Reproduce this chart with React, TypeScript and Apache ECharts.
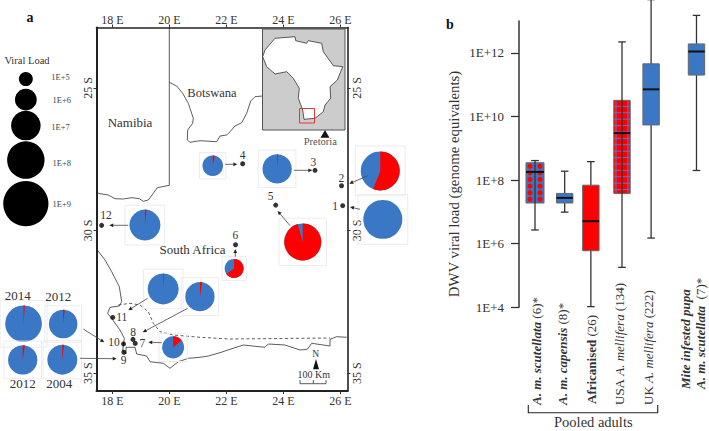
import React, { useEffect, useRef } from "react";
import * as echarts from "echarts";

const FONT = "'Liberation Serif', serif";
const BLUE = "#3a78c6";
const RED = "#ff0000";
const INK = "#333333";

// ---- panel a: map data (longitude E, latitude as negative S)
const lonTicks = [18, 20, 22, 24, 26];
const latTicks = [-25, -30, -35];
const siteIds = ["1", "2", "3", "4", "5", "6", "7", "8", "9", "10", "11", "12"];
const siteLon = [26.08, 26.04, 25.11, 22.57, 23.73, 22.32, 18.8, 18.72, 18.4, 18.39, 18.01, 17.62];
const siteLat = [-29.13, -28.43, -27.89, -27.66, -29.11, -30.5, -33.96, -33.82, -34.27, -33.98, -33.05, -29.82];

const pieLon = [21.52, 19.14, 23.78, 27.4, 27.49, 24.68, 22.27, 19.78, 21.07, 20.13, 14.88, 16.27, 14.85, 16.24];
const pieLat = [-27.73, -29.81, -27.84, -27.91, -29.61, -30.4, -31.33, -32.05, -32.32, -34.1, -33.27, -33.28, -34.54, -34.53];
const pieLoad = [5.85, 7.18, 6.97, 8.2, 8.2, 7.95, 5.64, 7.18, 6.97, 6.03, 7.9, 6.87, 6.97, 7.05];
const pieRedPct = [3.3, 1.7, 1.1, 56, 0, 95.5, 65, 0.8, 2.5, 14, 1.1, 1.7, 2.5, 1.9];

const legendLoad = [5, 6, 7, 8, 9];
const legendLon = [14.96, 14.96, 14.96, 14.96, 14.96];
const legendLat = [-24.69, -25.41, -26.32, -27.53, -29.06];
const legendLabels = ["1E+5", "1E+6", "1E+7", "1E+8", "1E+9"];

// ---- panel b: DWV viral load box plots
const boxNames = ["A. m. scutellata", "A. m. capensis", "Africanised", "USA A. mellifera", "UK A. mellifera", "Mite pupa"];
const boxPos = [1, 2.02, 2.92, 3.99, 4.99, 6.55];
const boxLow = [2.7e6, 9.8e6, 1.05e4, 1.8e5, 1.5e6, 2e8];
const boxQ1 = [1.9e7, 1.9e7, 6e5, 3.8e7, 5.4e9, 2e11];
const boxMed = [1.8e8, 2.75e7, 5.1e6, 3e9, 7.1e10, 1.1e12];
const boxQ3 = [3.5e8, 3.8e7, 6.9e7, 3.2e10, 4.5e11, 1.9e12];
const boxHigh = [4.1e8, 1.9e8, 3.8e8, 2.2e12, 4.7e13, 1.5e13];
const boxFill = ["dots", "blue", "red", "grid", "blue", "blue"];
const loadTicks = [1e4, 1e6, 1e8, 1e10, 1e12];

// ---- geographic outlines (decorative line work of the base map)
const botswanaD =
  "M169.3 82.3L176.7 86L182.7 93.3L188.3 103.3L193.3 118.3L192.7 123.3L187.7 130L187.3 140L190 142.3L200 140.7L216.7 141.7L220 136L226.7 135L230 131.7L235 126L241.7 122.7L246.7 113.3L250.7 101L255 96.7L262.3 96";
const namibiaD =
  "M169.3 27.5L169.3 185.3L157.3 187.7L153.3 193.3L148.3 200L143.3 201.3L139.3 198.7L131.7 197.7L123.3 199L115 198.7L108.3 195L100 193.7L96.7 192.7";
const coastD =
  "M96.7 249.3L105 260L111.7 271.7L119.3 286.7L121.7 301.7L119.3 306L110 307.3L107.7 313.3L113.3 320.7L120 330L124.3 338.3L123.3 345L122.7 350.7L126 354L126 347.3L135 347.3L136.7 354L146.7 356L150 361.7L163.3 363.3L170 368.3L178.3 361.7L188.3 358.3L200 357.3L208.3 356L220 352.7L230 349.3L243.3 345L265 347.3L268.3 344L285 345L300 350L307.3 349.3L311.7 343.3L330 346L330 339.3L336.7 336.7L346.7 337.3";
const dashedD =
  "M118.3 305L130 303.3L140 305L148.3 311.7L153.3 323.3L160 331.7L173.3 335L200 337.3L230 339L330 338";
const africaD =
  "M275 38.3L295 36.7L295.7 40.7L306.7 43.3L308.3 40.7L321.7 43.3L323.3 51.7L333.3 65.7L342.7 66.7L337.3 80L330 86.7L330.7 98.3L325 105L323.3 111.7L315 118.3L304 119.3L302.7 110L298.3 98.3L299.3 88.3L293.3 78.3L286.7 71.7L275 74L266.7 66.7L262.7 56.7L265 50Z";

echarts.graphic.registerShape("botswanaLine", echarts.graphic.extendPath(botswanaD, {}));
echarts.graphic.registerShape("namibiaLine", echarts.graphic.extendPath(namibiaD, {}));
echarts.graphic.registerShape("coastLine", echarts.graphic.extendPath(coastD, {}));
echarts.graphic.registerShape("dashedLine", echarts.graphic.extendPath(dashedD, {}));
echarts.graphic.registerShape("africaLine", echarts.graphic.extendPath(africaD, {}));

const loadRadius = (load: number) => 7 + (load - 5) * 3.9;

const T = (text: string, x: number, y: number, fontSize = 12, extra: any = {}) => ({
  type: "text",
  x,
  y,
  z: 6,
  rotation: extra.rotation || 0,
  style: {
    text,
    fontFamily: FONT,
    fontSize,
    fill: extra.fill || INK,
    fontWeight: extra.fontWeight || "normal",
    align: extra.align || "center",
    verticalAlign: "middle",
    rich: extra.rich,
  },
});

const arrow = (x1: number, y1: number, x2: number, y2: number) => {
  const a = Math.atan2(y2 - y1, x2 - x1);
  const len = 4;
  const w = 1.9;
  const bx = x2 - len * Math.cos(a);
  const by = y2 - len * Math.sin(a);
  return [
    { type: "line", z: 5, shape: { x1, y1, x2: bx, y2: by }, style: { stroke: "#444", lineWidth: 0.8 } },
    {
      type: "polygon",
      z: 5,
      shape: {
        points: [
          [x2, y2],
          [bx - w * Math.sin(a), by + w * Math.cos(a)],
          [bx + w * Math.sin(a), by - w * Math.cos(a)],
        ],
      },
      style: { fill: "#222" },
    },
  ];
};

const richBox = {
  b: { fontFamily: FONT, fontSize: 13, fontWeight: "bold", fontStyle: "italic", fill: INK },
  n: { fontFamily: FONT, fontSize: 13, fontWeight: "bold", fill: INK },
  i: { fontFamily: FONT, fontSize: 13, fontStyle: "italic", fill: INK },
  r: { fontFamily: FONT, fontSize: 13, fill: INK },
};

function buildGraphics() {
  const els: any[] = [
    { type: "rect", z: 1, shape: { x: 262.5, y: 29, width: 82.5, height: 101 }, style: { fill: "#cdcccc", stroke: "#555", lineWidth: 1 } },
    { type: "botswanaLine", z: 0, style: { fill: "none", stroke: "#333", lineWidth: 0.8 } },
    { type: "namibiaLine", z: 0, style: { fill: "none", stroke: "#333", lineWidth: 0.8 } },
    { type: "coastLine", z: 0, style: { fill: "none", stroke: "#333", lineWidth: 0.8 } },
    { type: "dashedLine", z: 0, style: { fill: "none", stroke: "#333", lineWidth: 0.8, lineDash: [3, 2.5] } },
    { type: "africaLine", z: 2, style: { fill: "#fff", stroke: "#333", lineWidth: 0.8 } },
    { type: "rect", z: 3, shape: { x: 299.5, y: 108.5, width: 15, height: 14.5 }, style: { fill: "none", stroke: "#ee3333", lineWidth: 1 } },
    { type: "polygon", z: 3, shape: { points: [[325, 130], [320.5, 137.7], [329.5, 137.7]] }, style: { fill: "#111" } },
    { type: "polygon", z: 3, shape: { points: [[316, 359], [313, 369.3], [319, 369.3]] }, style: { fill: "#111" } },
    { type: "polyline", z: 3, shape: { points: [[300, 380], [300, 383.7], [326, 383.7], [326, 380]] }, style: { fill: "none", stroke: "#333", lineWidth: 0.8 } },
    { type: "line", z: 3, shape: { x1: 313.3, y1: 380, x2: 313.3, y2: 383.7 }, style: { stroke: "#333", lineWidth: 0.8 } },
    // bracket under the pooled adults
    { type: "polyline", z: 3, shape: { points: [[528.3, 405], [528.3, 412.7], [657.7, 412.7], [657.7, 405]] }, style: { fill: "none", stroke: "#222", lineWidth: 1.1 } },
    T("a", 30, 17, 14, { fontWeight: "bold", fill: "#111" }),
    T("b", 450, 24, 14, { fontWeight: "bold", fill: "#111" }),
    T("Viral Load", 27, 60, 10.5),
    T("Namibia", 130, 122.5, 13),
    T("Botswana", 212, 92.5, 12.5),
    T("South Africa", 192.5, 249.5, 13),
    T("Pretoria", 320.3, 141.5, 10.5, { fill: "#555" }),
    T("N", 315.7, 354, 9.5),
    T("100 Km", 313.7, 374.8, 10),
    T("2014", 17.7, 295.7, 13),
    T("2012", 58.3, 296.7, 13),
    T("2012", 22.7, 383.3, 13),
    T("2004", 59.3, 383.3, 13),
    T("Pooled adults", 593.3, 421.7, 14.5),
    T("DWV viral load (genome equivalents)", 454, 184, 14.8, { rotation: Math.PI / 2 }),
    T("{b|A. m. scutellata}{r| (6)*}", 536.7, 405, 13, { align: "left", rotation: Math.PI / 2, rich: richBox }),
    T("{b|A. m. capensis}{r| (8)*}", 562.5, 405, 13, { align: "left", rotation: Math.PI / 2, rich: richBox }),
    T("{n|Africanised}{r| (26)}", 591, 404, 13, { align: "left", rotation: Math.PI / 2, rich: richBox }),
    T("{r|USA }{i|A. mellifera}{r| (134)}", 619, 405, 13, { align: "left", rotation: Math.PI / 2, rich: richBox }),
    T("{r|UK }{i|A. mellifera}{r| (222)}", 648, 405, 13, { align: "left", rotation: Math.PI / 2, rich: richBox }),
    T("{b|Mite infested pupa}", 685, 389, 13, { align: "left", rotation: Math.PI / 2, rich: richBox }),
    T("{b|A. m. scutellata}{r|  (7)*}", 700.7, 389, 13, { align: "left", rotation: Math.PI / 2, rich: richBox }),
  ];
  const siteLabelPos: [number, number][] = [
    [335, 205.7], [341.3, 178.3], [313.3, 162.3], [242.7, 155.3], [270.7, 195.7], [235.3, 235.3],
    [142.3, 343], [133, 331.7], [123.7, 360], [114, 341.7], [121.7, 317], [106, 215],
  ];
  siteIds.forEach((id, i) => els.push(T(id, siteLabelPos[i][0], siteLabelPos[i][1], 11.5)));
  const legendY = [76.7, 99.7, 127, 163, 204];
  const legendX = [60.5, 61.7, 60.5, 61.7, 61.7];
  legendLabels.forEach((l, i) => els.push(T(l, legendX[i], legendY[i], 8.5, { fill: "#444" })));
  const arrows: number[][] = [
    [225.3, 164.3, 237.3, 164.3],
    [128.3, 225.3, 109.3, 225.3],
    [294, 170.3, 312.3, 170.3],
    [367.7, 175.7, 349.3, 183.7],
    [360, 209.3, 350, 207],
    [290, 225.7, 277.7, 211],
    [235.3, 256.7, 235.3, 249],
    [147.7, 298.3, 128.3, 310.3],
    [187.7, 308.3, 142.7, 332.3],
    [161.7, 342.7, 148.3, 342.3],
    [83.3, 329, 104.3, 342.3],
    [80, 358.3, 116.7, 358.7],
  ];
  arrows.forEach((a) => els.push(...arrow(a[0], a[1], a[2], a[3])));
  return els;
}

const renderPie = (_p: any, api: any) => {
  const c = api.coord([api.value(0), api.value(1)]);
  const r = loadRadius(api.value(2));
  const pct = api.value(3);
  const h = r * 1.28;
  const children: any[] = [
    { type: "rect", shape: { x: c[0] - h, y: c[1] - h, width: 2 * h, height: 2 * h }, style: { fill: "none", stroke: "#ececec", lineWidth: 1 } },
    { type: "circle", shape: { cx: c[0], cy: c[1], r }, style: { fill: BLUE } },
  ];
  if (pct > 0) {
    children.push({
      type: "sector",
      shape: { cx: c[0], cy: c[1], r0: 0, r, startAngle: -Math.PI / 2, endAngle: -Math.PI / 2 + (pct / 100) * 2 * Math.PI, clockwise: true },
      style: { fill: RED },
    });
  }
  return { type: "group", children };
};

const renderBox = (p: any, api: any) => {
  const x = api.value(0);
  const [cx, yLow] = api.coord([x, api.value(1)]);
  const yQ1 = api.coord([x, api.value(2)])[1];
  const yMed = api.coord([x, api.value(3)])[1];
  const yQ3 = api.coord([x, api.value(4)])[1];
  const yHigh = api.coord([x, api.value(5)])[1];
  const fill = boxFill[p.dataIndex];
  const hw = fill === "dots" ? 9 : 8.2;
  const stroke = { stroke: "#333", lineWidth: 1.3 };
  const whisk: any[] = [
    { type: "line", shape: { x1: cx, y1: yLow, x2: cx, y2: yHigh }, style: stroke },
    { type: "line", shape: { x1: cx - 3.8, y1: yLow, x2: cx + 3.8, y2: yLow }, style: stroke },
    { type: "line", shape: { x1: cx - 3.8, y1: yHigh, x2: cx + 3.8, y2: yHigh }, style: stroke },
  ];
  const base = fill === "red" || fill === "grid" ? RED : BLUE;
  const body: any[] = [
    { type: "rect", shape: { x: cx - hw, y: yQ3, width: 2 * hw, height: yQ1 - yQ3 }, style: { fill: base, stroke: "#666", lineWidth: 1 } },
  ];
  if (fill === "dots") {
    for (let y = yQ3 + 3.5; y < yQ1 - 1; y += 6.6) {
      [-5, 5].forEach((d) =>
        body.push({ type: "circle", shape: { cx: cx + d, cy: y, r: 2.6 }, style: { fill: RED } })
      );
    }
  }
  if (fill === "grid") {
    for (let y = yQ3 + 6; y < yQ1; y += 6.4) {
      body.push({ type: "line", shape: { x1: cx - hw, y1: y, x2: cx + hw, y2: y }, style: { stroke: "#6a6fc8", lineWidth: 1 } });
    }
    [-6, 6].forEach((d) =>
      body.push({ type: "line", shape: { x1: cx + d, y1: yQ3, x2: cx + d, y2: yQ1 }, style: { stroke: "#6a6fc8", lineWidth: 1 } })
    );
  }
  const over = fill === "dots" || fill === "grid";
  const med = { type: "line", shape: { x1: cx - hw, y1: yMed, x2: cx + hw, y2: yMed }, style: { stroke: "#111", lineWidth: 2 } };
  return { type: "group", children: over ? [...body, ...whisk, med] : [...whisk, ...body, med] };
};

export default function App() {
  const ref = useRef<HTMLDivElement>(null);
  useEffect(() => {
    const chart = echarts.init(ref.current!, undefined, { renderer: "svg" });
    const latAxis = (position: string, labelMargin: number, lineWidth: number) => ({
      type: "value",
      gridIndex: 0,
      position,
      min: -35.63,
      max: -22.88,
      splitLine: { show: false },
      axisLine: { show: true, onZero: false, lineStyle: { color: "#222", width: lineWidth } },
      axisTick: { show: true, length: 3, customValues: latTicks, lineStyle: { color: "#333" } },
      axisLabel: {
        customValues: latTicks,
        rotate: 90,
        margin: labelMargin,
        fontFamily: FONT,
        fontSize: 12,
        color: INK,
        formatter: (v: number) => `${Math.abs(v)} S`,
      },
    });
    const lonAxis = (position: string, lineWidth: number, labelMargin: number) => ({
      type: "value",
      gridIndex: 0,
      position,
      min: 17.44,
      max: 26.25,
      splitLine: { show: false },
      axisLine: { show: true, onZero: false, lineStyle: { color: "#222", width: lineWidth } },
      axisTick: { show: true, length: 3, customValues: lonTicks, lineStyle: { color: "#333" } },
      axisLabel: {
        customValues: lonTicks,
        margin: labelMargin,
        fontFamily: FONT,
        fontSize: 12,
        color: INK,
        formatter: (v: number) => `${v} E`,
      },
    });
    chart.setOption({
      animation: false,
      backgroundColor: "#ffffff",
      grid: [
        { left: 96.5, top: 27.5, width: 251, height: 363.5 },
        { left: 519, top: 21, width: 190, height: 286.3 },
      ],
      xAxis: [
        lonAxis("bottom", 2, 4),
        lonAxis("top", 1.6, 2),
        { type: "value", gridIndex: 1, min: 0.45, max: 6.98, show: false },
      ],
      yAxis: [
        latAxis("left", 3, 2),
        latAxis("right", 3, 1.6),
        {
          type: "log",
          logBase: 10,
          gridIndex: 1,
          min: 1e4,
          max: 1e13,
          splitLine: { show: false },
          minorTick: { show: false },
          axisLine: { show: true, lineStyle: { color: "#333", width: 1.5 } },
          axisTick: { show: true, length: 8, customValues: loadTicks, lineStyle: { color: "#333", width: 1.3 } },
          axisLabel: {
            customValues: loadTicks,
            margin: 15,
            fontFamily: FONT,
            fontSize: 13,
            color: INK,
            formatter: (v: number) => `1E+${Math.round(Math.log10(v))}`,
          },
        },
      ],
      graphic: { elements: buildGraphics() },
      series: [
        {
          name: "Viral load legend",
          type: "custom",
          xAxisIndex: 0,
          yAxisIndex: 0,
          clip: false,
          z: 3,
          data: legendLoad.map((l, i) => [legendLon[i], legendLat[i], l]),
          encode: { x: 0, y: 1 },
          renderItem: (_p: any, api: any) => {
            const c = api.coord([api.value(0), api.value(1)]);
            return { type: "circle", shape: { cx: c[0], cy: c[1], r: loadRadius(api.value(2)) }, style: { fill: "#000" } };
          },
        },
        {
          name: "Colony pies",
          type: "custom",
          xAxisIndex: 0,
          yAxisIndex: 0,
          clip: false,
          z: 3,
          data: pieLon.map((lon, i) => [lon, pieLat[i], pieLoad[i], pieRedPct[i]]),
          encode: { x: 0, y: 1 },
          renderItem: renderPie,
        },
        {
          name: "Sites",
          type: "scatter",
          xAxisIndex: 0,
          yAxisIndex: 0,
          clip: false,
          z: 4,
          symbolSize: 5,
          itemStyle: { color: "#000" },
          data: siteLon.map((lon, i) => [lon, siteLat[i]]),
        },
        {
          name: "DWV load",
          type: "custom",
          xAxisIndex: 2,
          yAxisIndex: 2,
          clip: false,
          z: 3,
          data: boxPos.map((x, i) => ({ name: boxNames[i], value: [x, boxLow[i], boxQ1[i], boxMed[i], boxQ3[i], boxHigh[i]] })),
          encode: { x: 0, y: [1, 2, 3, 4, 5] },
          renderItem: renderBox,
        },
      ],
    });
    return () => chart.dispose();
  }, []);
  return <div ref={ref} style={{ position: "fixed", left: 0, top: 0, width: 709, height: 431 }} />;
}
